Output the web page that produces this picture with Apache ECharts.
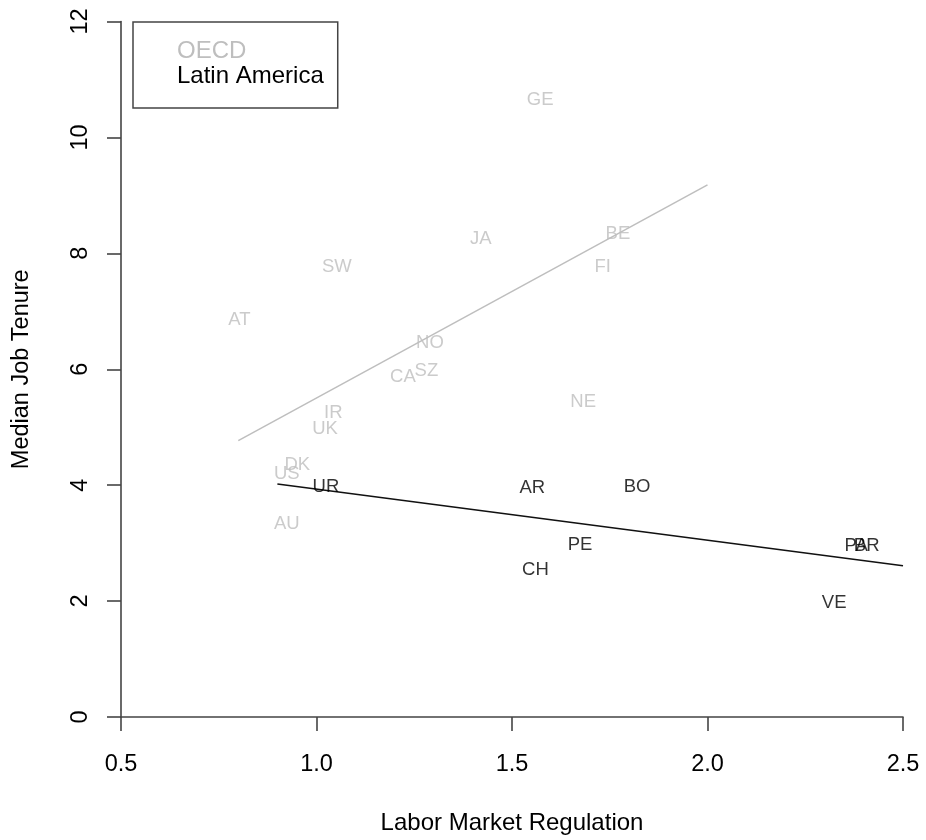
<!DOCTYPE html>
<html>
<head>
<meta charset="utf-8">
<script src="https://cdn.jsdelivr.net/npm/echarts@6/dist/echarts.min.js"></script>
<style>
html,body{margin:0;padding:0;background:#fff;}
#chart{width:926px;height:840px;}
</style>
</head>
<body>
<div id="chart"></div>
<script>
// ---- data ----
var oecdCodes = ['GE','JA','BE','FI','SW','AT','NO','SZ','CA','NE','IR','UK','DK','US','AU'];
var oecdReg   = [1.572,1.42,1.771,1.732,1.052,0.803,1.29,1.281,1.221,1.682,1.043,1.022,0.951,0.924,0.924];
var oecdTen   = [10.68,8.27,8.36,7.79,7.80,6.88,6.48,5.99,5.89,5.47,5.28,4.99,4.37,4.22,3.36];

var latCodes = ['UR','AR','BO','PE','CH','PA','BR','VE'];
var latReg   = [1.024,1.552,1.82,1.674,1.56,2.38,2.407,2.324];
var latTen   = [3.99,3.98,3.99,2.99,2.57,2.98,2.98,2.0];

var oecdFitX = [0.8, 2.0];
var oecdFitY = [4.77, 9.18];
var latFitX  = [0.9, 2.5];
var latFitY  = [4.02, 2.61];

var xTicks = [0.5, 1.0, 1.5, 2.0, 2.5];
var yTicks = [0, 2, 4, 6, 8, 10, 12];

// ---- build ----
var FONT = "'Liberation Sans', Arial, Helvetica, sans-serif";
var GRAY = '#bebebe';
var AXIS = '#444';

function pts(codes, xs, ys) {
  return codes.map(function (c, i) { return { name: c, value: [xs[i], ys[i]] }; });
}
function line(xs, ys) {
  return xs.map(function (x, i) { return [x, ys[i]]; });
}

var chart = echarts.init(document.getElementById('chart'), null, { renderer: 'canvas' });
chart.setOption({
  animation: false,
  backgroundColor: '#fff',
  textStyle: { fontFamily: FONT },
  grid: { left: 121, right: 23, top: 21.5, bottom: 123, containLabel: false },
  legend: {
    orient: 'vertical',
    left: 133, top: 22,
    width: 170,
    padding: [17, 14, 19, 39],
    itemGap: 0,
    itemWidth: 0, itemHeight: 0,
    borderColor: AXIS, borderWidth: 1.5, borderRadius: 0,
    selectedMode: false,
    textStyle: { fontSize: 24, fontFamily: FONT, lineHeight: 25 },
    data: [
      { name: 'OECD', icon: 'rect', textStyle: { color: GRAY } },
      { name: 'Latin America', icon: 'rect', textStyle: { color: '#000' } }
    ]
  },
  xAxis: {
    type: 'value', min: xTicks[0], max: xTicks[xTicks.length - 1], interval: 0.5,
    name: 'Labor Market Regulation', nameLocation: 'middle', nameGap: 94,
    nameTextStyle: { fontSize: 24, color: '#000', fontFamily: FONT },
    axisLine: { show: true, onZero: false, lineStyle: { color: AXIS, width: 1.6 } },
    axisTick: { show: true, length: 14, lineStyle: { color: AXIS, width: 1.6 } },
    axisLabel: { fontSize: 23.5, color: '#000', margin: 36, fontFamily: FONT,
      formatter: function (v) { return v.toFixed(1); } },
    splitLine: { show: false }
  },
  yAxis: {
    type: 'value', min: yTicks[0], max: yTicks[yTicks.length - 1], interval: 2,
    name: 'Median Job Tenure', nameLocation: 'middle', nameGap: 87,
    nameTextStyle: { fontSize: 23.5, color: '#000', fontFamily: FONT },
    axisLine: { show: true, onZero: false, lineStyle: { color: AXIS, width: 1.6 } },
    axisTick: { show: true, length: 14, lineStyle: { color: AXIS, width: 1.6 } },
    axisLabel: { fontSize: 23.5, color: '#000', margin: 28, rotate: 90, fontFamily: FONT },
    splitLine: { show: false }
  },
  series: [
    {
      name: 'OECD', type: 'scatter', symbolSize: 1,
      itemStyle: { color: 'rgba(0,0,0,0)' },
      label: { show: true, position: 'inside', offset: [0, 1.5], formatter: '{b}', color: GRAY,
        fontSize: 18.5, fontFamily: FONT },
      data: pts(oecdCodes, oecdReg, oecdTen), z: 3
    },
    {
      name: 'Latin America', type: 'scatter', symbolSize: 1,
      itemStyle: { color: 'rgba(0,0,0,0)' },
      label: { show: true, position: 'inside', offset: [0, 1.5], formatter: '{b}', color: '#000',
        fontSize: 18.5, fontFamily: FONT },
      data: pts(latCodes, latReg, latTen), z: 3
    },
    {
      name: 'OECD fit', type: 'line', symbol: 'none', silent: true,
      lineStyle: { color: GRAY, width: 1.5 },
      data: line(oecdFitX, oecdFitY), z: 2
    },
    {
      name: 'Latin America fit', type: 'line', symbol: 'none', silent: true,
      lineStyle: { color: '#111', width: 1.6 },
      data: line(latFitX, latFitY), z: 2
    }
  ]
});
</script>
</body>
</html>
